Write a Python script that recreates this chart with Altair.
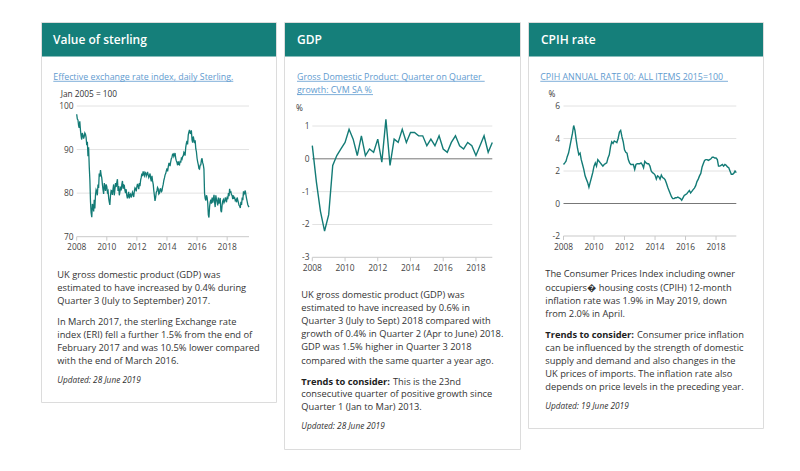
import altair as alt
import pandas as pd

# ---------------- data ----------------
# Sterling effective exchange rate index, two readings a month (1st, 16th), Jan 2008 - Jun 2019
eri_values = [
    98.1, 97.0, 96.8, 95.5, 95.0, 96.5, 94.5, 93.2, 92.3, 93.8, 93.3, 92.5, 93.0, 93.8, 93.5, 92.8, 91.0, 91.8, 88.5, 90.5, 86.0, 83.0, 78.0, 75.5,
    74.5, 77.5, 77.0, 75.8, 78.5, 76.5, 79.5, 80.8, 80.5, 79.5, 82.0, 81.2, 84.5, 83.8, 85.3, 84.2, 83.5, 82.0, 80.8, 79.8, 82.3, 81.5, 80.5, 82.0,
    81.5, 80.2, 80.5, 78.8, 78.0, 77.3, 79.5, 80.6, 80.5, 79.6, 81.0, 82.0, 79.5, 80.8, 82.3, 81.4, 82.5, 83.2, 80.5, 81.6, 79.5, 80.4, 81.5, 80.6,
    82.0, 82.8, 81.0, 81.9, 81.8, 80.7, 80.0, 80.9, 79.5, 78.8, 79.5, 80.3, 78.8, 79.6, 79.8, 79.0, 79.5, 80.2, 79.8, 79.1, 80.5, 81.2, 81.0, 80.4,
    81.5, 82.1, 81.5, 80.9, 82.3, 81.6, 83.0, 83.6, 84.5, 83.9, 85.0, 84.4, 84.0, 84.8, 84.6, 83.9, 84.3, 84.9, 84.2, 83.6, 84.0, 84.5, 83.3, 82.7,
    84.0, 82.8, 82.0, 80.5, 79.5, 78.2, 79.0, 80.2, 80.5, 81.3, 81.0, 79.8, 80.0, 80.9, 81.0, 80.3, 80.5, 81.4, 82.0, 82.9, 83.5, 84.2, 84.5, 85.1,
    85.7, 85.0, 86.1, 86.8, 86.8, 86.2, 87.2, 87.9, 88.2, 88.9, 89.0, 88.4, 88.8, 89.2, 88.0, 87.4, 87.0, 86.4, 87.3, 86.6, 86.5, 87.4, 87.0, 88.0,
    87.8, 88.4, 88.6, 89.4, 89.2, 88.6, 90.5, 91.4, 92.0, 91.2, 93.3, 94.0, 94.5, 93.8, 93.7, 94.4, 92.2, 91.6, 93.0, 92.3, 91.5, 92.1, 90.2, 89.5,
    88.0, 87.2, 86.5, 85.6, 85.5, 86.4, 86.5, 87.6, 88.0, 87.0, 86.5, 85.5, 80.0, 78.8, 78.3, 79.5, 79.0, 77.8, 75.0, 74.4, 77.0, 78.0, 78.5, 77.6,
    79.0, 77.8, 78.8, 79.6, 78.0, 76.8, 79.5, 78.6, 78.0, 77.2, 79.0, 77.6, 78.0, 78.9, 76.0, 75.6, 77.3, 78.2, 78.5, 77.8, 78.2, 79.0, 78.5, 77.9,
    79.2, 78.6, 80.0, 79.3, 81.0, 80.2, 80.3, 79.6, 79.5, 78.6, 79.5, 78.9, 79.0, 78.3, 78.5, 77.9, 79.0, 78.4, 77.8, 77.2, 77.0, 76.6, 78.0, 77.3,
    79.0, 78.4, 80.4, 79.8, 80.0, 80.6, 79.6, 78.8, 78.1, 77.4, 77.0, 76.8,
]

# GDP quarter-on-quarter growth, %, 2008 Q1 - 2019 Q1
gdp_values = [
    0.4, -0.7, -1.6, -2.2,
    -1.7, -0.2, 0.1, 0.3,
    0.5, 0.9, 0.6, 0.1,
    0.7, 0.1, 0.3, 0.2,
    0.6, -0.1, 1.2, -0.2,
    0.6, 0.5, 0.9, 0.5,
    0.8, 0.8, 0.7, 0.7,
    0.4, 0.6, 0.4, 0.7,
    0.3, 0.2, 0.5, 0.7,
    0.4, 0.3, 0.5, 0.4,
    0.1, 0.4, 0.7, 0.2,
    0.5,
]

# CPIH annual rate, %, monthly Jan 2008 - May 2019
cpih_values = [
    2.4, 2.5, 2.6, 2.9, 3.1, 3.5, 3.9, 4.3, 4.8, 4.5, 3.9, 3.4,
    3.0, 3.1, 2.7, 2.4, 2.1, 1.7, 1.5, 1.3, 1.0, 1.3, 1.6, 1.9,
    2.3, 2.5, 2.3, 2.7, 2.6, 2.5, 2.4, 2.3, 2.4, 2.45, 2.5, 2.8,
    3.0, 3.5, 3.8, 3.7, 3.85, 3.8, 3.75, 4.0, 4.4, 4.5, 4.1, 3.8,
    3.3, 3.15, 3.1, 2.7, 2.5, 2.4, 2.4, 2.4, 2.1, 2.4, 2.45, 2.45,
    2.45, 2.5, 2.4, 2.2, 2.6, 2.5, 2.45, 2.45, 2.3, 2.0, 1.9, 1.85,
    1.75, 1.5, 1.7, 1.65, 1.5, 1.75, 1.6, 1.55, 1.45, 1.25, 1.0, 0.8,
    0.6, 0.4, 0.3, 0.3, 0.35, 0.35, 0.4, 0.35, 0.3, 0.2, 0.35, 0.5,
    0.55, 0.6, 0.7, 0.8, 0.65, 0.75, 0.85, 0.95, 1.1, 1.35, 1.5, 1.7,
    1.85, 2.25, 2.45, 2.65, 2.7, 2.7, 2.65, 2.7, 2.75, 2.85, 2.85, 2.8,
    2.8, 2.7, 2.3, 2.3, 2.35, 2.4, 2.3, 2.4, 2.35, 2.25, 2.2, 2.0,
    1.8, 1.8, 1.85, 2.0, 1.9,
]

year_labels = [2008, 2010, 2012, 2014, 2016, 2018]
eri_ticks = [70, 80, 90, 100]
gdp_ticks = [-3, -2, -1, 0, 1]
cpih_ticks = [-2, 0, 2, 4, 6]

titles = ["Value of sterling", "GDP", "CPIH rate"]
links = [
    ["Effective exchange rate index, daily Sterling."],
    ["Gross Domestic Product: Quarter on Quarter", "growth: CVM SA %"],
    ["CPIH ANNUAL RATE 00: ALL ITEMS 2015=100"],
]
body1 = [
    ["UK gross domestic product (GDP) was",
     "estimated to have increased by 0.4% during",
     "Quarter 3 (July to September) 2017."],
    ["In March 2017, the sterling Exchange rate",
     "index (ERI) fell a further 1.5% from the end of",
     "February 2017 and was 10.5% lower compared",
     "with the end of March 2016."],
]
body2 = [
    ["UK gross domestic product (GDP) was",
     "estimated to have increased by 0.6% in",
     "Quarter 3 (July to Sept) 2018 compared with",
     "growth of 0.4% in Quarter 2 (Apr to June) 2018.",
     "GDP was 1.5% higher in Quarter 3 2018",
     "compared with the same quarter a year ago."],
    ["This is the 23nd",
     "consecutive quarter of positive growth since",
     "Quarter 1 (Jan to Mar) 2013."],
]
body3 = [
    ["The Consumer Prices Index including owner",
     "occupiers\ufffd housing costs (CPIH) 12-month",
     "inflation rate was 1.9% in May 2019, down",
     "from 2.0% in April."],
    ["Consumer price inflation",
     "can be influenced by the strength of domestic",
     "supply and demand and also changes in the",
     "UK prices of imports. The inflation rate also",
     "depends on price levels in the preceding year."],
]
trends_label = "Trends to consider:"
updated = ["Updated: 28 June 2019", "Updated: 28 June 2019", "Updated: 19 June 2019"]

# ---------------- styles ----------------
FONT = "Open Sans"
TEAL = "#157f7a"
LINE = "#137b76"
GRID = "#e2e2e2"
AXIS = "#c9c9c9"
ZERO = "#777777"
TXT = "#333333"
LINK = "#5f9bcf"
BODY = 9.3
LINKSIZE = 8.85

months = pd.date_range("2008-01-01", periods=len(eri_values) // 2, freq="MS")
eri_dates = []
for m in months:
    eri_dates += [m, m + pd.Timedelta(days=15)]
eri_df = pd.DataFrame({"date": [d.strftime("%Y-%m-%d") for d in eri_dates], "v": eri_values})
gdp_df = pd.DataFrame({"date": pd.date_range("2008-01-01", periods=len(gdp_values), freq="QS").strftime("%Y-%m-%d"),
                       "v": gdp_values})
cpih_df = pd.DataFrame({"date": pd.date_range("2008-01-01", periods=len(cpih_values), freq="MS").strftime("%Y-%m-%d"),
                        "v": cpih_values})


def dt(y, m, d=1):
    return alt.DateTime(year=y, month=m, date=d, utc=True)


def panel(df, ticks, ydom, yrange, xdom, xrange, ylab_x, xlab_y, zero=False, width=1.3):
    xs = alt.Scale(domain=xdom, range=xrange)
    ys = alt.Scale(domain=ydom, range=yrange)
    tdf = pd.DataFrame({"v": ticks, "lbl": [str(t) for t in ticks]})
    grid_df = tdf[(tdf.v != ydom[0]) & ((tdf.v != 0) | (not zero))]
    grid = alt.Chart(grid_df).mark_rule(color=GRID, strokeWidth=1).encode(
        y=alt.Y("v:Q", scale=ys, axis=None), x=alt.value(xrange[0]), x2=alt.value(xrange[1]))
    base = alt.Chart(pd.DataFrame({"v": [ydom[0]]})).mark_rule(color=AXIS, strokeWidth=1).encode(
        y=alt.Y("v:Q", scale=ys, axis=None), x=alt.value(xrange[0]), x2=alt.value(xrange[1]))
    layers = [grid, base]
    if zero:
        layers.append(alt.Chart(pd.DataFrame({"v": [0]})).mark_rule(color=ZERO, strokeWidth=1).encode(
            y=alt.Y("v:Q", scale=ys, axis=None), x=alt.value(xrange[0]), x2=alt.value(xrange[1])))
    ydf = pd.DataFrame({"date": [f"{y}-01-01" for y in year_labels], "lbl": [str(y) for y in year_labels]})
    ticks_x = alt.Chart(ydf).mark_rule(color=AXIS, strokeWidth=1).encode(
        x=alt.X("date:T", scale=xs, axis=None), y=alt.value(yrange[0]), y2=alt.value(yrange[0] + 4))
    line = alt.Chart(df).mark_line(color=LINE, strokeWidth=width).encode(
        x=alt.X("date:T", scale=xs, axis=None), y=alt.Y("v:Q", scale=ys, axis=None))
    ylab = alt.Chart(tdf).mark_text(align="right", baseline="middle", font=FONT, fontSize=8.4, color="#444").encode(
        y=alt.Y("v:Q", scale=ys, axis=None), x=alt.value(ylab_x), text="lbl:N")
    xlab = alt.Chart(ydf).mark_text(align="center", baseline="middle", font=FONT, fontSize=8.4, color="#444").encode(
        x=alt.X("date:T", scale=xs, axis=None), y=alt.value(xlab_y), text="lbl:N")
    return alt.layer(*layers, ticks_x, line, ylab, xlab)


p1 = panel(eri_df, eri_ticks, [70, 100], [236.7, 106], [dt(2008, 1), dt(2019, 6, 15)], [76.7, 249],
           73.5, 246.5, zero=False, width=1.3)
p2 = panel(gdp_df, gdp_ticks, [-3, 1], [257.3, 126], [dt(2008, 1), dt(2019, 1)], [312.3, 492.3],
           309.5, 267.5, zero=True, width=1.4)
p3 = panel(cpih_df, cpih_ticks, [-2, 6], [236, 106], [dt(2008, 1), dt(2019, 5)], [563.5, 736.3],
           560, 246.5, zero=True, width=1.4)


def pix(chart):
    return chart.encode(x=alt.X("px:Q", scale=None, axis=None), y=alt.Y("py:Q", scale=None, axis=None))


def text_layer(rows, **kw):
    df = pd.DataFrame(rows, columns=["px", "py", "txt"])
    return pix(alt.Chart(df).mark_text(align="left", baseline="middle", font=FONT, **kw)).encode(text="txt:N")


# cards
card_x = [(41.5, 276.5), (284.5, 520.5), (528.5, 763.5)]
card_bottom = [402.5, 449.5, 428.5]
cards_df = pd.DataFrame({"px": [a for a, b in card_x], "px2": [b for a, b in card_x],
                         "py": [22.5] * 3, "py2": card_bottom})
cards = pix(alt.Chart(cards_df).mark_rect(fill="white", stroke="#dcdcdc", strokeWidth=1)).encode(
    x2="px2:Q", y2="py2:Q")
head_df = pd.DataFrame({"px": [a + 0.5 for a, b in card_x], "px2": [b - 0.5 for a, b in card_x],
                        "py": [23] * 3, "py2": [56.5] * 3})
heads = pix(alt.Chart(head_df).mark_rect(fill=TEAL)).encode(x2="px2:Q", y2="py2:Q")

# text positions
left_title = [53, 297, 541]
head_rows = [(left_title[i], 40.3, titles[i]) for i in range(3)]

link_left = [53.3, 297, 540.3]
link_rows = []
for i, ls in enumerate(links):
    for j, s in enumerate(ls):
        link_rows.append((link_left[i], 76.7 + 13.3 * j, s))
ul_df = pd.DataFrame({"px": [53.3, 297, 297, 540.3], "px2": [233.3, 484.7, 373, 728],
                      "py": [81.3, 81.3, 94.6, 81.3]})
underlines = pix(alt.Chart(ul_df).mark_rule(color=LINK, strokeWidth=0.8)).encode(x2="px2:Q")

body_rows = []
bold_rows = []
ital_rows = []
# card 1
y1 = [275, 287.7, 300.7]
y2 = [321.7, 335, 348.3, 361]
body_rows += [(57.3, y, s) for y, s in zip(y1, body1[0])]
body_rows += [(57.3, y, s) for y, s in zip(y2, body1[1])]
ital_rows.append((57.3, 381, updated[0]))
# card 2
y1 = [295, 307.7, 321, 334.3, 347.3, 360.7]
y2 = [381.7, 394.3, 407.3]
body_rows += [(301.3, y, s) for y, s in zip(y1, body2[0])]
body_rows.append((393, y2[0], body2[1][0]))
body_rows += [(301.3, y, s) for y, s in zip(y2[1:], body2[1][1:])]
bold_rows.append((301.3, y2[0], trends_label))
ital_rows.append((301.3, 427.3, updated[1]))
# card 3
y1 = [274.3, 287.7, 301, 314]
y2 = [335, 347.7, 360.7, 374, 387.3]
body_rows += [(545.3, y, s) for y, s in zip(y1, body3[0])]
body_rows.append((637, y2[0], body3[1][0]))
body_rows += [(545.3, y, s) for y, s in zip(y2[1:], body3[1][1:])]
bold_rows.append((545.3, y2[0], trends_label))
ital_rows.append((545.3, 406.7, updated[2]))

unit_rows = [(60.7, 95, "Jan 2005 = 100"), (296, 109, "%"), (548.5, 95, "%")]

t_head = text_layer(head_rows, fontSize=12, fontWeight=600, color="white")
t_link = text_layer(link_rows, fontSize=LINKSIZE, color=LINK)
t_body = text_layer(body_rows, fontSize=BODY, color=TXT)
t_bold = text_layer(bold_rows, fontSize=BODY, fontWeight="bold", color="#222")
t_ital = text_layer(ital_rows, fontSize=8.3, fontStyle="italic", color=TXT)
t_unit = text_layer(unit_rows, fontSize=8.3, color=TXT)

chart = alt.layer(
    cards, heads, p1, p2, p3, underlines, t_head, t_link, t_body, t_bold, t_ital, t_unit
).resolve_scale(
    x="independent", y="independent"
).properties(
    width=800, height=471, padding=0, autosize=alt.AutoSizeParams(type="none"), background="white"
).configure_view(stroke=None)

chart.save("out.html", embed_options={"renderer": "svg", "actions": False})
